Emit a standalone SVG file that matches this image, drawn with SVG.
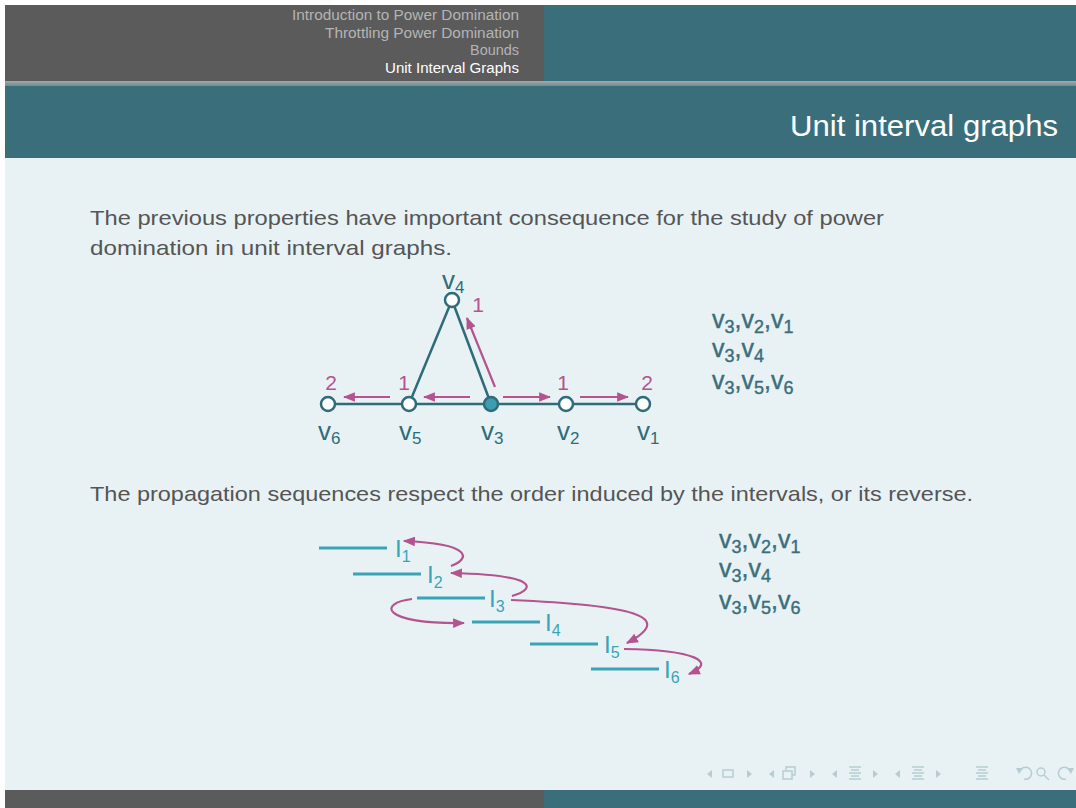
<svg xmlns="http://www.w3.org/2000/svg" width="1076" height="808" viewBox="0 0 1076 808">
<defs>
<style>
.nav{font-family:"Liberation Sans",Arial,sans-serif;font-size:14px;fill:#b4b4b4;text-anchor:end}
.body{font-family:"Liberation Sans",Arial,sans-serif;font-size:21px;fill:#555555}
.edge{stroke:#2f6b79;stroke-width:2.5;fill:none}
.node{fill:#ffffff;stroke:#2f6b79;stroke-width:2.5}
.mag{stroke:#b5538f;stroke-width:2.2;fill:none}
.magt{font-family:"Liberation Sans",Arial,sans-serif;font-size:21px;fill:#b5538f;text-anchor:middle}
.vl{font-family:"Liberation Sans",Arial,sans-serif;font-size:26px;fill:#2f6b79}
.seq{font-family:"Liberation Sans",Arial,sans-serif;font-size:25px;fill:#3b6e7b;stroke:#3b6e7b;stroke-width:0.4}
.iv{stroke:#3aa3b5;stroke-width:3;fill:none}
.il{font-family:"Liberation Sans",Arial,sans-serif;font-size:24px;fill:#3aa3b5}
.ic{fill:none;stroke:#b7cdd3;stroke-width:1.5}
.it{fill:#b7cdd3}
</style>
<marker id="ah" viewBox="0 0 10 10" refX="9" refY="5" markerWidth="5.5" markerHeight="5.5" orient="auto-start-reverse" markerUnits="strokeWidth">
<path d="M0,1 L10,5 L0,9 Z" fill="#b5538f"/>
</marker>
<linearGradient id="sep" x1="0" y1="0" x2="0" y2="1">
<stop offset="0" stop-color="#a3a9aa"/>
<stop offset="1" stop-color="#6f8c93"/>
</linearGradient>
</defs>
<rect x="0" y="0" width="1076" height="808" fill="#ffffff"/>
<g id="frame">
<rect x="5" y="5" width="1071" height="785" fill="#e8f2f5"/>
<rect x="5" y="5" width="539" height="76" fill="#5b5b5b"/>
<rect x="544" y="5" width="532" height="76" fill="#3b6e7b"/>
<rect x="5" y="81" width="1071" height="5" fill="url(#sep)"/>
<rect x="5" y="86" width="1071" height="72" fill="#3b6e7b"/>
<rect x="5" y="790" width="539" height="18" fill="#5b5b5b"/>
<rect x="544" y="790" width="532" height="18" fill="#3b6e7b"/>
</g>
<g id="header">
<text class="nav" x="519" y="20" textLength="227" lengthAdjust="spacingAndGlyphs">Introduction to Power Domination</text>
<text class="nav" x="519" y="38" textLength="194" lengthAdjust="spacingAndGlyphs">Throttling Power Domination</text>
<text class="nav" x="519" y="55" textLength="49" lengthAdjust="spacingAndGlyphs">Bounds</text>
<text class="nav" x="519" y="73" textLength="134" lengthAdjust="spacingAndGlyphs" style="fill:#ffffff">Unit Interval Graphs</text>
<text x="1058" y="136" font-family="Liberation Sans,Arial,sans-serif" font-size="29" fill="#ffffff" text-anchor="end" textLength="268" lengthAdjust="spacingAndGlyphs">Unit interval graphs</text>
</g>
<g id="text">
<text class="body" x="90" y="225" textLength="794" lengthAdjust="spacingAndGlyphs">The previous properties have important consequence for the study of power</text>
<text class="body" x="90" y="255" textLength="362" lengthAdjust="spacingAndGlyphs">domination in unit interval graphs.</text>
<text class="body" x="90" y="501" textLength="883" lengthAdjust="spacingAndGlyphs">The propagation sequences respect the order induced by the intervals, or its reverse.</text>
</g>
<g id="connectors">
<line class="edge" x1="328" y1="404" x2="643" y2="404"/>
<line class="edge" x1="409" y1="404" x2="452" y2="300"/>
<line class="edge" x1="452" y1="300" x2="491" y2="404"/>
<line class="mag" x1="390" y1="397" x2="344" y2="397" marker-end="url(#ah)"/>
<line class="mag" x1="470" y1="397" x2="424" y2="397" marker-end="url(#ah)"/>
<line class="mag" x1="503" y1="397" x2="550" y2="397" marker-end="url(#ah)"/>
<line class="mag" x1="580" y1="397" x2="628" y2="397" marker-end="url(#ah)"/>
<line class="mag" x1="495" y1="387" x2="467" y2="318" marker-end="url(#ah)"/>
<path class="mag" d="M451,566 C470,559 474,544 404,541" marker-end="url(#ah)"/>
<path class="mag" d="M512,596 C536,589 540,575 451,573" marker-end="url(#ah)"/>
<path class="mag" d="M412,599 C378,603 380,624 464,623" marker-end="url(#ah)"/>
<path class="mag" d="M511,600 C630,605 678,616 627,643" marker-end="url(#ah)"/>
<path class="mag" d="M624,649 C695,650 718,662 689,674" marker-end="url(#ah)"/>
</g>
<g id="v6"><circle class="node" cx="328" cy="404" r="7"/><text class="magt" x="331" y="390">2</text><text class="vl" x="318" y="440">v<tspan font-size="17" dy="4">6</tspan></text></g>
<g id="v5"><circle class="node" cx="409" cy="404" r="7"/><text class="magt" x="404" y="390">1</text><text class="vl" x="399" y="440">v<tspan font-size="17" dy="4">5</tspan></text></g>
<g id="v3"><circle class="node" cx="491" cy="404" r="7" style="fill:#3a9db0"/><text class="vl" x="481" y="440">v<tspan font-size="17" dy="4">3</tspan></text></g>
<g id="v2"><circle class="node" cx="566" cy="404" r="7"/><text class="magt" x="563" y="390">1</text><text class="vl" x="557" y="440">v<tspan font-size="17" dy="4">2</tspan></text></g>
<g id="v1"><circle class="node" cx="643" cy="404" r="7"/><text class="magt" x="647" y="390">2</text><text class="vl" x="637" y="440">v<tspan font-size="17" dy="4">1</tspan></text></g>
<g id="v4"><circle class="node" cx="452" cy="300" r="7"/><text class="magt" x="478" y="312">1</text><text class="vl" x="442" y="289">v<tspan font-size="17" dy="4">4</tspan></text></g>
<g id="seq1">
<text class="seq" x="712" y="328">v<tspan font-size="18" dy="5">3</tspan><tspan dy="-5">,v</tspan><tspan font-size="18" dy="5">2</tspan><tspan dy="-5">,v</tspan><tspan font-size="18" dy="5">1</tspan></text>
<text class="seq" x="712" y="357">v<tspan font-size="18" dy="5">3</tspan><tspan dy="-5">,v</tspan><tspan font-size="18" dy="5">4</tspan></text>
<text class="seq" x="712" y="389">v<tspan font-size="18" dy="5">3</tspan><tspan dy="-5">,v</tspan><tspan font-size="18" dy="5">5</tspan><tspan dy="-5">,v</tspan><tspan font-size="18" dy="5">6</tspan></text>
</g>
<g id="I1"><line class="iv" x1="319" y1="548" x2="387" y2="548"/><text class="il" x="395" y="557">I<tspan font-size="16" dy="5">1</tspan></text></g>
<g id="I2"><line class="iv" x1="353" y1="574" x2="421" y2="574"/><text class="il" x="427" y="583">I<tspan font-size="16" dy="5">2</tspan></text></g>
<g id="I3"><line class="iv" x1="417" y1="598" x2="485" y2="598"/><text class="il" x="489" y="607">I<tspan font-size="16" dy="5">3</tspan></text></g>
<g id="I4"><line class="iv" x1="472" y1="622" x2="540" y2="622"/><text class="il" x="545" y="631">I<tspan font-size="16" dy="5">4</tspan></text></g>
<g id="I5"><line class="iv" x1="530" y1="644" x2="598" y2="644"/><text class="il" x="604" y="653">I<tspan font-size="16" dy="5">5</tspan></text></g>
<g id="I6"><line class="iv" x1="591" y1="669" x2="659" y2="669"/><text class="il" x="664" y="678">I<tspan font-size="16" dy="5">6</tspan></text></g>
<g id="seq2">
<text class="seq" x="719" y="548">v<tspan font-size="18" dy="5">3</tspan><tspan dy="-5">,v</tspan><tspan font-size="18" dy="5">2</tspan><tspan dy="-5">,v</tspan><tspan font-size="18" dy="5">1</tspan></text>
<text class="seq" x="719" y="577">v<tspan font-size="18" dy="5">3</tspan><tspan dy="-5">,v</tspan><tspan font-size="18" dy="5">4</tspan></text>
<text class="seq" x="719" y="609">v<tspan font-size="18" dy="5">3</tspan><tspan dy="-5">,v</tspan><tspan font-size="18" dy="5">5</tspan><tspan dy="-5">,v</tspan><tspan font-size="18" dy="5">6</tspan></text>
</g>
<g id="navsymbols">
<path class="it" d="M712,770 L707,774 L712,778 Z"/>
<rect class="ic" x="723" y="770" width="10" height="7"/>
<path class="it" d="M747,770 L752,774 L747,778 Z"/>
<path class="it" d="M774,770 L769,774 L774,778 Z"/>
<rect class="ic" x="783" y="771" width="9" height="8"/>
<path class="ic" d="M786,771 V767 H795 V775 H792"/>
<path class="it" d="M810,770 L815,774 L810,778 Z"/>
<path class="it" d="M837,770 L832,774 L837,778 Z"/>
<path class="ic" d="M849,767 H861 M851,770 H859 M849,773 H861 M851,776 H859 M849,779 H861"/>
<path class="it" d="M873,770 L878,774 L873,778 Z"/>
<path class="it" d="M900,770 L895,774 L900,778 Z"/>
<path class="ic" d="M912,767 H924 M914,770 H922 M912,773 H924 M914,776 H922 M912,779 H924"/>
<path class="it" d="M936,770 L941,774 L936,778 Z"/>
<path class="ic" d="M976,767 H988 M978,770 H986 M976,773 H988 M978,776 H986 M976,779 H988"/>
<path class="ic" d="M1020,771 A6,6 0 1 1 1024,779"/>
<path class="it" d="M1016,768 L1023,768 L1019,774 Z"/>
<circle class="ic" cx="1041" cy="772" r="4"/>
<line class="ic" x1="1044" y1="775" x2="1049" y2="780"/>
<path class="ic" d="M1070,771 A6,6 0 1 0 1066,779"/>
<path class="it" d="M1074,768 L1067,768 L1071,774 Z"/>
</g>
</svg>
